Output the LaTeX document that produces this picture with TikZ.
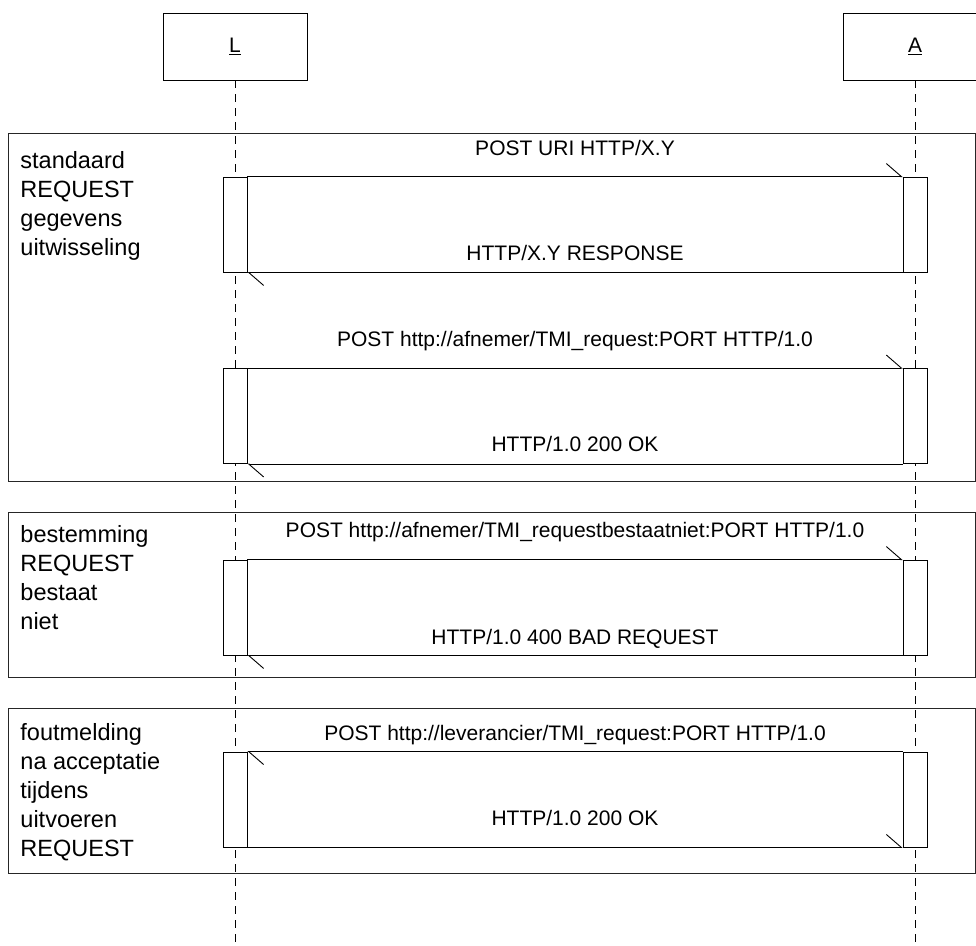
\documentclass[tikz,border=0pt]{standalone}
\usepackage{fontspec}
\setmainfont{Liberation Sans}
\usetikzlibrary{arrows.meta}
\begin{document}
\begin{tikzpicture}[x=1pt,y=-1pt,
  line width=0.9pt,
  head/.style={draw, fill=white, minimum width=144pt, minimum height=67pt, inner sep=0pt, font=\fontsize{21}{25}\selectfont},
  lifeline/.style={dash pattern=on 8pt off 6pt},
  act/.style={draw, fill=white, minimum width=24pt, minimum height=95pt, inner sep=0pt},
  msg/.style={-{Straight Barb[left,length=15pt,width=26pt]}},
  msglabel/.style={anchor=base, inner sep=0pt, font=\fontsize{21}{25}\selectfont},
  framebox/.style={draw=black!85, minimum width=967pt, anchor=north west, inner sep=0pt},
  framelabel/.style={anchor=base west, align=left, inner sep=0pt, font=\fontsize{23.5}{29}\selectfont},
]
\useasboundingbox (0,0) rectangle (976,945);

% frames
\node[framebox, minimum height=348pt] (f1) at (8,133) {};
\node[framebox, minimum height=165pt] (f2) at (8,512) {};
\node[framebox, minimum height=165pt] (f3) at (8,708) {};

% labels (anchor base = baseline of the last line)
\node[framelabel] (t1) at (20,255) {standaard\\REQUEST\\gegevens\\uitwisseling};
\node[framelabel] (t2) at (20,629) {bestemming\\REQUEST\\bestaat\\niet};
\node[framelabel] (t3) at (20,856) {foutmelding\\na acceptatie\\tijdens\\uitvoeren\\REQUEST};

% heads and lifelines
\node[head] (L) at (235,46.5) {\underline{L}};
\node[head] (A) at (915,46.5) {\underline{A}};
\coordinate (Lend) at (235,946);
\coordinate (Aend) at (915,946);
\draw[lifeline] (L.south) -- (Lend);
\draw[lifeline] (A.south) -- (Aend);

% activations
\node[act] (aL1) at (235,224.5) {};
\node[act] (aA1) at (915,224.5) {};
\node[act] (aL2) at (235,416) {};
\node[act] (aA2) at (915,416) {};
\node[act] (aL3) at (235,607.5) {};
\node[act] (aA3) at (915,607.5) {};
\node[act] (aL4) at (235,799.5) {};
\node[act] (aA4) at (915,799.5) {};

% messages
\draw[msg] (aL1.north east) -- (aA1.north west);
\draw[msg] (aA1.south west) -- (aL1.south east);
\draw[msg] (aL2.north east) -- (aA2.north west);
\draw[msg] (aA2.south west) -- (aL2.south east);
\draw[msg] (aL3.north east) -- (aA3.north west);
\draw[msg] (aA3.south west) -- (aL3.south east);
\draw[msg] (aA4.north west) -- (aL4.north east);
\draw[msg] (aL4.south east) -- (aA4.south west);

% message labels
\node[msglabel] (m1) at (575,155.5) {POST URI HTTP/X.Y};
\node[msglabel] (r1) at (575,260.5) {HTTP/X.Y RESPONSE};
\node[msglabel] (m2) at (575,346.5) {POST http://afnemer/TMI\_request:PORT HTTP/1.0};
\node[msglabel] (r2) at (575,451.5) {HTTP/1.0 200 OK};
\node[msglabel] (m3) at (575,537.5) {POST http://afnemer/TMI\_requestbestaatniet:PORT HTTP/1.0};
\node[msglabel] (r3) at (575,644.5) {HTTP/1.0 400 BAD REQUEST};
\node[msglabel] (m4) at (575,740.5) {POST http://leverancier/TMI\_request:PORT HTTP/1.0};
\node[msglabel] (r4) at (575,825.5) {HTTP/1.0 200 OK};
\end{tikzpicture}
\end{document}
